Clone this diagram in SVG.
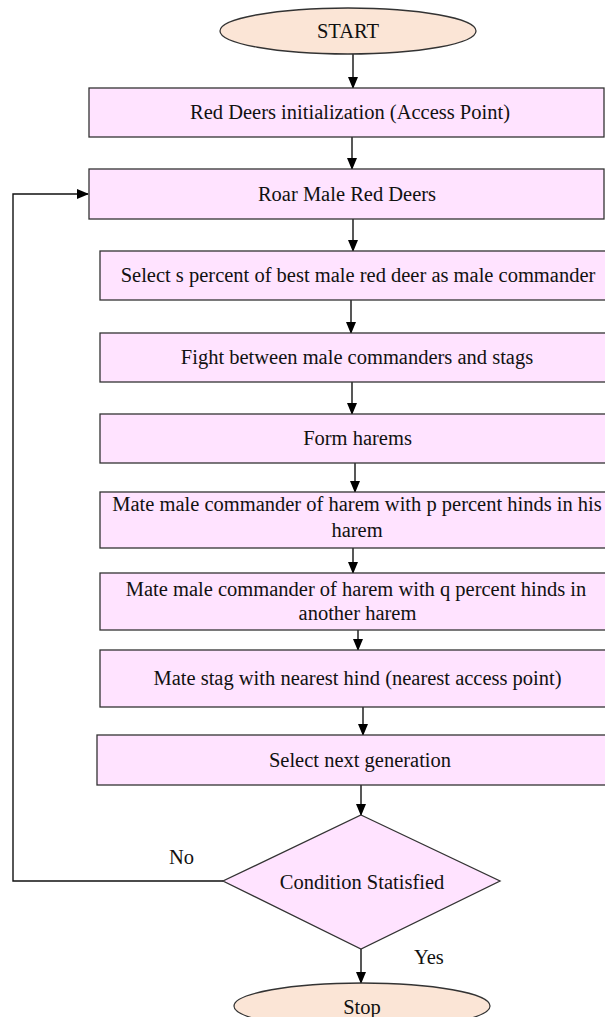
<svg xmlns="http://www.w3.org/2000/svg" width="605" height="1017" viewBox="0 0 605 1017">
<style>
.box{fill:#FFE3FF;stroke:#333;stroke-width:1.3}
.term{fill:#FBE5D6;stroke:#333;stroke-width:1.3}
.t{font-family:"Liberation Serif","Times New Roman",serif;font-size:20.5px;fill:#111;text-anchor:middle}
.l{font-family:"Liberation Serif","Times New Roman",serif;font-size:20.5px;fill:#111}
.c{fill:none;stroke:#111;stroke-width:1.4}
</style>
<defs>
<marker id="ah" markerWidth="12" markerHeight="10" refX="11" refY="5" orient="auto" markerUnits="userSpaceOnUse">
<path d="M0,0 L12,5 L0,10 Z" fill="#000"/>
</marker>
</defs>
<rect width="605" height="1017" fill="#fff"/>
<g id="connectors">
<line class="c" x1="353" y1="54" x2="353" y2="88" marker-end="url(#ah)"/>
<line class="c" x1="352" y1="137" x2="352" y2="169" marker-end="url(#ah)"/>
<line class="c" x1="353" y1="219" x2="353" y2="251" marker-end="url(#ah)"/>
<line class="c" x1="351" y1="300" x2="351" y2="333" marker-end="url(#ah)"/>
<line class="c" x1="352" y1="382" x2="352" y2="414" marker-end="url(#ah)"/>
<line class="c" x1="355" y1="463" x2="355" y2="492" marker-end="url(#ah)"/>
<line class="c" x1="353" y1="548" x2="353" y2="573" marker-end="url(#ah)"/>
<line class="c" x1="358" y1="630" x2="358" y2="650" marker-end="url(#ah)"/>
<line class="c" x1="363" y1="707" x2="363" y2="735" marker-end="url(#ah)"/>
<line class="c" x1="361" y1="785" x2="361" y2="815" marker-end="url(#ah)"/>
<line class="c" x1="361" y1="949" x2="361" y2="983" marker-end="url(#ah)"/>
<polyline class="c" points="223,881 13,881 13,194 88,194" marker-end="url(#ah)"/>
<text class="l" x="169" y="864">No</text>
<text class="l" x="414" y="964">Yes</text>
</g>
<g id="start">
<ellipse class="term" cx="348" cy="31" rx="128" ry="23"/>
<text class="t" x="348" y="38">START</text>
</g>
<g id="init">
<rect class="box" x="89" y="88" width="515" height="49"/>
<text class="t" x="350" y="119">Red Deers initialization (Access Point)</text>
</g>
<g id="roar">
<rect class="box" x="89" y="169" width="515" height="50"/>
<text class="t" x="347" y="201">Roar Male Red Deers</text>
</g>
<g id="select">
<rect class="box" x="100" y="251" width="520" height="49"/>
<text class="t" x="358" y="282">Select s percent of best male red deer as male commander</text>
</g>
<g id="fight">
<rect class="box" x="100" y="333" width="520" height="49"/>
<text class="t" x="357" y="364">Fight between male commanders and stags</text>
</g>
<g id="form">
<rect class="box" x="100" y="414" width="520" height="49"/>
<text class="t" x="357.5" y="445">Form harems</text>
</g>
<g id="mate-p">
<rect class="box" x="100" y="492" width="520" height="56"/>
<text class="t" x="357" y="511">Mate male commander of harem with p percent hinds in his</text>
<text class="t" x="357" y="537">harem</text>
</g>
<g id="mate-q">
<rect class="box" x="100" y="573" width="520" height="57"/>
<text class="t" x="356" y="596">Mate male commander of harem with q percent hinds in</text>
<text class="t" x="357.5" y="620">another harem</text>
</g>
<g id="mate-stag">
<rect class="box" x="100" y="650" width="520" height="57"/>
<text class="t" x="357.5" y="685">Mate stag with nearest hind (nearest access point)</text>
</g>
<g id="next-gen">
<rect class="box" x="97" y="735" width="523" height="50"/>
<text class="t" x="360" y="767">Select next generation</text>
</g>
<g id="condition">
<polygon class="box" points="361,815 500,881 361,949 223,881"/>
<text class="t" x="362" y="889">Condition Statisfied</text>
</g>
<g id="stop">
<ellipse class="term" cx="362" cy="1006" rx="128" ry="23"/>
<text class="t" x="362" y="1014">Stop</text>
</g>
</svg>
